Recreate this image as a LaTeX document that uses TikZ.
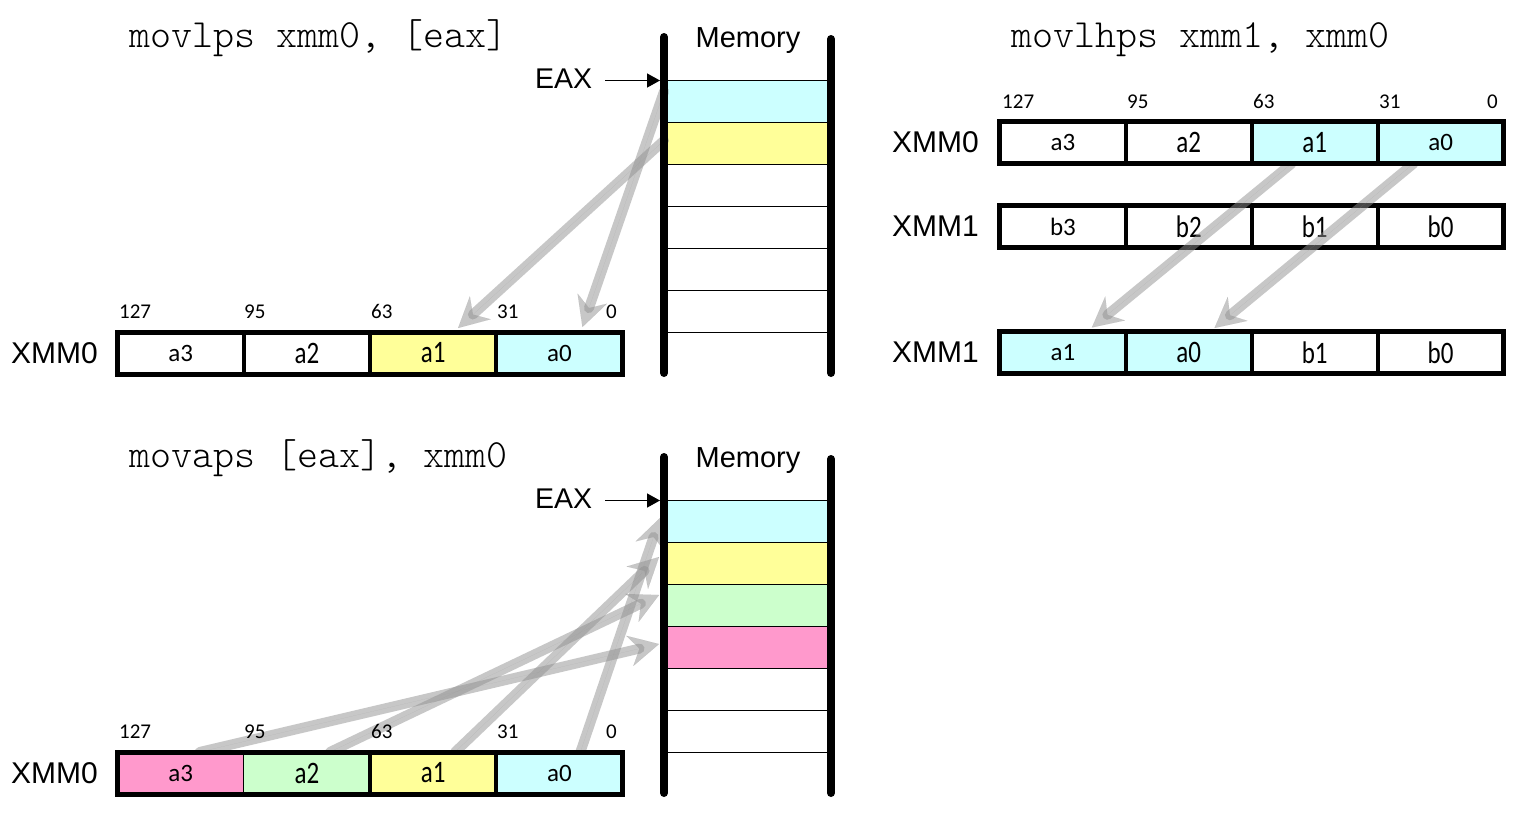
\documentclass[tikz,border=0pt]{standalone}
\usepackage{graphicx}
\usepackage{fontspec}
\setmainfont{Liberation Sans}
\newfontfamily\calibrifont{Carlito}
\newfontfamily\codefont{Latin Modern Mono Light}
\usetikzlibrary{arrows.meta}
\definecolor{cyanc}{RGB}{204,255,255}
\definecolor{yellowc}{RGB}{255,255,153}
\definecolor{greenc}{RGB}{204,255,204}
\definecolor{pinkc}{RGB}{255,153,204}
\definecolor{arrowgray}{RGB}{145,145,145}
\newcommand\tallc[1]{\scalebox{1}[1.25]{#1}}
\tikzset{
  cell/.style={draw, line width=4pt, minimum width=126.25pt, minimum height=42pt,
    inner sep=0pt, outer sep=0pt, fill=white, font=\calibrifont\fontsize{25}{30}\selectfont},
  cellr/.style={cell, minimum width=125.9pt},
  thincell/.style={cell, line width=1.3pt},
  outerbox/.style={line width=5pt},
  bitlbl/.style={font=\calibrifont\fontsize{21}{25}\selectfont, inner sep=0pt, anchor=base west},
  bitlblr/.style={bitlbl, anchor=base east},
  reglbl/.style={font=\fontsize{30}{36}\selectfont, inner sep=0pt, anchor=base east},
  code/.style={font=\codefont\fontsize{40}{46}\selectfont, inner sep=0pt, anchor=base west},
  memlbl/.style={font=\fontsize{29}{34}\selectfont, inner sep=0pt, anchor=base},
  eaxlbl/.style={font=\fontsize{28.5}{34}\selectfont, inner sep=0pt, anchor=base west},
  memrow/.style={draw, line width=1.3pt, minimum width=167pt, minimum height=42pt,
    inner sep=0pt, outer sep=0pt},
  memwall/.style={line width=8pt, line cap=round},
  eaxarrow/.style={line width=1.4pt, -{Triangle[length=13pt,width=14pt]}},
  flow/.style={draw=arrowgray, fill=arrowgray, opacity=0.5, line width=10pt, line cap=round,
    -{Stealth[length=30pt,width=31pt,inset=10pt,line width=0.01pt]}},
}
\begin{document}
\begin{tikzpicture}[x=1pt,y=-1pt]
\useasboundingbox (0,0) rectangle (1520,820);
\fill[white] (0,0) rectangle (1520,820);

% ---------- titles
\node[code] (t1) at (129,47) {movlps xmm0, [eax]};
\node[code] (t2) at (1011,47) {movlhps xmm1, xmm0};
\node[code] (t3) at (129,467) {movaps [eax], xmm0};

% ================= TOP-LEFT: movlps =================
\node[memrow, fill=cyanc]   (tm1) at (747.5,101.5) {};
\node[memrow, fill=yellowc] (tm2) at (747.5,143.5) {};
\node[memrow, fill=white]   (tm3) at (747.5,185.5) {};
\node[memrow, fill=white]   (tm4) at (747.5,227.5) {};
\node[memrow, fill=white]   (tm5) at (747.5,269.5) {};
\node[memrow, fill=white]   (tm6) at (747.5,311.5) {};

\node[cell] (tl3) at (180.6,353) {a3};
\node[cell] (tl2) at (306.9,353) {\tallc{a2}};
\node[cell, fill=yellowc] (tl1) at (433.1,353) {\tallc{a1}};
\node[cell, fill=cyanc] (tl0) at (559.4,353) {a0};
\draw[outerbox] (tl3.north west) rectangle (tl0.south east);

\node[bitlbl] (tlb1) at (119,318.5) {127};
\node[bitlbl] (tlb2) at (244,318.5) {95};
\node[bitlbl] (tlb3) at (371,318.5) {63};
\node[bitlbl] (tlb4) at (497,318.5) {31};
\node[bitlblr] (tlb5) at (617,318.5) {0};
\node[reglbl] (tlx) at (98,363) {XMM0};

\draw[flow] ([yshift=10pt]tm1.west) -- ([xshift=23pt,yshift=5pt]tl0.north);
\draw[flow] ([yshift=3pt]tm2.west) -- ([xshift=25pt,yshift=4pt]tl1.north);

\draw[memwall] (664,37) -- (664,373);
\draw[memwall] (831,39) -- (831,373);
\node[memlbl] (mem1) at (748,47) {Memory};
\node[eaxlbl] (eax1) at (535,88.5) {EAX};
\coordinate (eax1s) at (605,80.5);
\draw[eaxarrow] (eax1s) -- ([xshift=-4pt]tm1.north west);

% ================= BOTTOM-LEFT: movaps =================
\node[memrow, fill=cyanc]   (bm1) at (747.5,521.5) {};
\node[memrow, fill=yellowc] (bm2) at (747.5,563.5) {};
\node[memrow, fill=greenc]  (bm3) at (747.5,605.5) {};
\node[memrow, fill=pinkc]   (bm4) at (747.5,647.5) {};
\node[memrow, fill=white]   (bm5) at (747.5,689.5) {};
\node[memrow, fill=white]   (bm6) at (747.5,731.5) {};

\node[thincell, fill=pinkc] (bl3) at (180.6,773) {a3};
\node[thincell, fill=greenc] (bl2) at (306.9,773) {\tallc{a2}};
\node[cell, fill=yellowc] (bl1) at (433.1,773) {\tallc{a1}};
\node[cell, fill=cyanc] (bl0) at (559.4,773) {a0};

\draw[flow] ([xshift=19pt]bl3.north) -- ([xshift=-5pt,yshift=3.5pt]bm4.west);
\draw[flow] ([xshift=23pt]bl2.north) -- ([xshift=-5pt,yshift=10.5pt]bm3.west);
\draw[flow] ([xshift=22pt]bl1.north) -- ([xshift=-5pt,yshift=6.5pt]bm2.west);
\draw[flow] ([xshift=21pt]bl0.north) -- ([xshift=-4pt,yshift=3.5pt]bm1.west);

% redraw register over the arrow starts
\node[thincell, fill=pinkc] at (bl3) {a3};
\node[thincell, fill=greenc] at (bl2) {\tallc{a2}};
\node[cell, fill=yellowc] at (bl1) {\tallc{a1}};
\node[cell, fill=cyanc] at (bl0) {a0};
\draw[outerbox] (bl3.north west) rectangle (bl0.south east);

\node[bitlbl] (blb1) at (119,738.5) {127};
\node[bitlbl] (blb2) at (244,738.5) {95};
\node[bitlbl] (blb3) at (371,738.5) {63};
\node[bitlbl] (blb4) at (497,738.5) {31};
\node[bitlblr] (blb5) at (617,738.5) {0};
\node[reglbl] (blx) at (98,783) {XMM0};

\draw[memwall] (664,457) -- (664,793);
\draw[memwall] (831,459) -- (831,793);
\node[memlbl] (mem2) at (748,467) {Memory};
\node[eaxlbl] (eax2) at (535,508.5) {EAX};
\coordinate (eax2s) at (605,500.5);
\draw[eaxarrow] (eax2s) -- ([xshift=-4pt]bm1.north west);

% ================= TOP-RIGHT: movlhps =================
\node[cellr] (trm3) at (1062.9,226.75) {b3};
\node[cellr] (trm2) at (1188.8,226.75) {\tallc{b2}};
\node[cellr] (trm1) at (1314.7,226.75) {\tallc{b1}};
\node[cellr] (trm0) at (1440.6,226.75) {\tallc{b0}};
\draw[outerbox] (trm3.north west) rectangle (trm0.south east);

\node[cellr, fill=cyanc] (trb3) at (1062.9,352.5) {a1};
\node[cellr, fill=cyanc] (trb2) at (1188.8,352.5) {\tallc{a0}};
\node[cellr] (trb1) at (1314.7,352.5) {\tallc{b1}};
\node[cellr] (trb0) at (1440.6,352.5) {\tallc{b0}};
\draw[outerbox] (trb3.north west) rectangle (trb0.south east);

\node[cellr] (tr3) at (1062.9,142.5) {a3};
\node[cellr] (tr2) at (1188.8,142.5) {\tallc{a2}};
\node[cellr, fill=cyanc] (tr1) at (1314.7,142.5) {\tallc{a1}};
\node[cellr, fill=cyanc] (tr0) at (1440.6,142.5) {a0};

\draw[flow] ([xshift=-23pt]tr1.south) -- ([xshift=29pt,yshift=4pt]trb3.north);
\draw[flow] ([xshift=-27pt]tr0.south) -- ([xshift=25.7pt,yshift=3.5pt]trb2.north);

\node[cellr] at (tr3) {a3};
\node[cellr] at (tr2) {\tallc{a2}};
\node[cellr, fill=cyanc] at (tr1) {\tallc{a1}};
\node[cellr, fill=cyanc] at (tr0) {a0};
\draw[outerbox] (tr3.north west) rectangle (tr0.south east);

\node[bitlbl] (trbit1) at (1002,108.5) {127};
\node[bitlbl] (trbit2) at (1127,108.5) {95};
\node[bitlbl] (trbit3) at (1253,108.5) {63};
\node[bitlbl] (trbit4) at (1379,108.5) {31};
\node[bitlblr] (trbit5) at (1498,108.5) {0};

\node[reglbl] (trx0) at (979,152.5) {XMM0};
\node[reglbl] (trx1) at (979,236.5) {XMM1};
\node[reglbl] (trx2) at (979,362.5) {XMM1};
\end{tikzpicture}
\end{document}
